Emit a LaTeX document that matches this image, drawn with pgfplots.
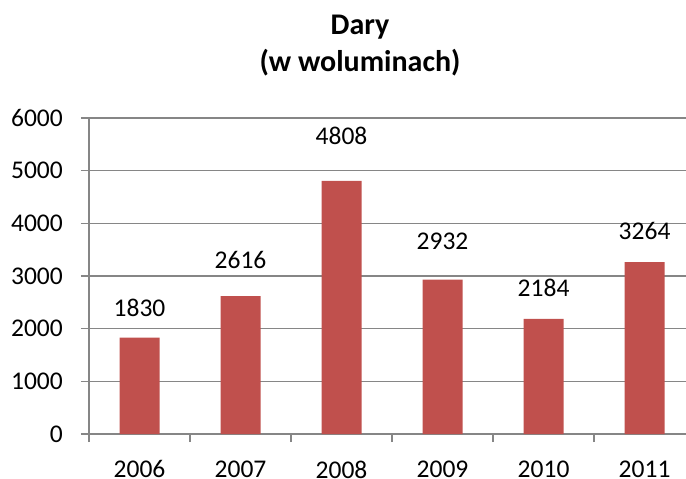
\documentclass[border=0pt]{standalone}
\usepackage{pgfplots}
\pgfplotsset{compat=1.18}
\usepackage{pgfplotstable}
\usepackage{fontspec}
\setmainfont{Carlito}
\definecolor{barred}{HTML}{C0504D}
\definecolor{axgray}{HTML}{868686}
\pgfplotstableread{
x y ly v
0 1830 2220 1830
1 2616 3144 2616
2 4808 5484 4808
3 2932 3491 2932
4 2184 2600 2184
5 3264 3681 3264
}\datatable
\begin{document}
\begin{tikzpicture}
\useasboundingbox (-89bp,-45bp) rectangle (597bp,434bp);
\begin{axis}[
  scale only axis, width=597bp, height=316bp,
  xmin=-0.5, xmax=5.41, ymin=0, ymax=6000,
  axis lines*=left,
  axis line style={axgray, line width=1.2bp},
  xtick={-0.5,0.5,1.5,2.5,3.5,4.5},
  xticklabels={},
  extra x ticks={0,1,2,3,4,5},
  extra x tick labels={2006,2007,2008,2009,2010,2011},
  extra x tick style={tick style={draw=none}},
  ytick={0,1000,2000,3000,4000,5000,6000},
  tick style={axgray, line width=1.2bp},
  major tick length=8bp,
  tick align=outside,
  ymajorgrids, grid style={axgray, line width=1.2bp},
  /pgf/number format/assume math mode=true,
  /pgf/number format/1000 sep={},
  ticklabel style={font=\fontsize{25.5bp}{31bp}\selectfont, inner sep=0pt},
  xticklabel style={anchor=north, yshift=-18.5bp},
  yticklabel style={anchor=east, xshift=-18bp},
  clip=false,
]
\addplot[ybar, bar width=40bp, fill=barred, draw=none] table[x=x, y=y] {\datatable};
\addplot[draw=none, mark=none, nodes near coords, point meta=explicit symbolic,
  every node near coord/.append style={font=\fontsize{25.5bp}{31bp}\selectfont, inner sep=0pt, text=black}]
  table[x=x, y=ly, meta=v] {\datatable};
\end{axis}
\node[anchor=base, font=\fontsize{30bp}{36bp}\selectfont\bfseries] at (271bp,399bp) {Dary};
\node[anchor=base, font=\fontsize{30bp}{36bp}\selectfont\bfseries] at (271bp,362bp) {(w woluminach)};
\end{tikzpicture}
\end{document}
